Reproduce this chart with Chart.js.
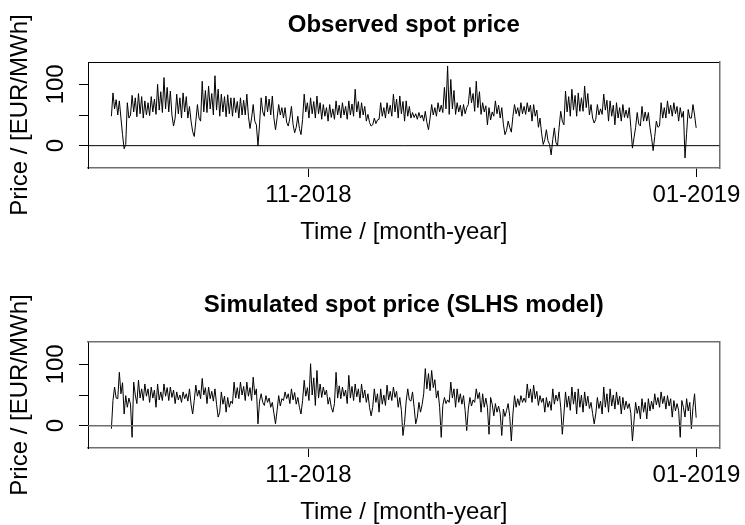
<!DOCTYPE html>
<html>
<head>
<meta charset="utf-8">
<script src="https://cdn.jsdelivr.net/npm/chart.js@4.4.1/dist/chart.umd.min.js"></script>
<style>
  html, body { margin: 0; padding: 0; background: #fff; overflow: hidden; width: 745px; height: 525px; }
  canvas { position: absolute; left: 0; }
  #observedChart { top: 0; }
  #simulatedChart { top: 280px; }
</style>
</head>
<body>
<canvas id="observedChart" width="745" height="280"></canvas>
<canvas id="simulatedChart" width="745" height="280"></canvas>
<script>
// Hourly spot prices, 1 Oct 2018 00:00 to 31 Dec 2018 23:00 (EUR/MWh),
// kept as four successive turning points per day (night, morning, midday, evening).
const observedOct = [
  48, 86, 60, 75,   50, 73, 45, 18,   -5, 2, 70, 45,    50, 82, 55, 78,
  47, 85, 52, 80,   45, 73, 50, 70,   49, 80, 55, 76,   51, 100, 58, 88,
  54, 111, 60, 95,  55, 89, 50, 32,   45, 84, 52, 78,   45, 86, 55, 80,
  45, 64, 40, 23,   15, 40, 67, 45,   40, 105, 55, 90,  54, 97, 60, 85,
  50, 114, 58, 92,  48, 84, 55, 80,   47, 83, 52, 78,   48, 78, 54, 72,
  45, 78, 50, 74,   50, 84, 48, 28,   45, 67, 40, 34,   0, 35, 78, 55,
  48, 81, 55, 76,   50, 81, 45, 26,   45, 67, 50, 62,   45, 62, 38, 32,
  45, 64, 35, 21,   30, 48, 28, 18,   43, 84, 55, 70
];
const observedNov = [
  45, 78, 52, 72,   45, 81, 52, 70,   43, 67, 48, 62,   40, 67, 46, 60,
  43, 73, 50, 66,   45, 70, 50, 64,   43, 73, 50, 68,   48, 92, 55, 72,
  45, 70, 50, 64,   40, 51, 38, 32,   34, 45, 36, 42,   43, 70, 48, 62,
  45, 70, 52, 66,   48, 84, 55, 76,   45, 81, 52, 72,   40, 73, 48, 64,
  45, 54, 46, 52,   43, 54, 45, 50,   40, 56, 38, 26,   45, 67, 50, 62,
  48, 70, 55, 66,   54, 95, 60, 130,  51, 108, 60, 90,  51, 70, 55, 66,
  48, 67, 52, 62,   67, 95, 70, 85,   56, 105, 62, 88,  51, 70, 55, 65,
  34, 62, 42, 55,   48, 73, 52, 66
];
const observedDec = [
  45, 62, 35, 18,   25, 40, 30, 22,   48, 67, 52, 62,   48, 70, 52, 64,
  51, 70, 55, 66,   40, 67, 48, 58,   30, 45, 20, 2,    10, 26, 8, 2,
  -15, 10, 29, 5,   0, 30, 56, 40,    34, 89, 55, 80,   48, 92, 58, 82,
  48, 86, 56, 78,   56, 97, 62, 85,   50, 67, 45, 37,   43, 67, 50, 60,
  51, 84, 58, 74,   40, 73, 48, 66,   34, 70, 45, 62,   40, 67, 46, 58,
  45, 62, 30, -4,   13, 30, 54, 35,   32, 64, 40, 55,   40, 54, 30, 13,
  -8, 15, 40, 30,   32, 70, 45, 62,   45, 73, 52, 66,   48, 70, 52, 64,
  40, 62, 46, 56,   -20, 20, 59, 45,  45, 67, 50, 29
];

const simulatedOct = [
  -5, 41, 63, 45,   44, 87, 52, 70,   19, 49, 30, 45,   35, -19, 71, 50,
  36, 74, 45, 60,   41, 68, 48, 60,   38, 63, 45, 58,   30, 68, 42, 55,
  41, 68, 48, 62,   41, 63, 46, 58,   36, 55, 42, 50,   38, 55, 44, 52,
  40, 60, 35, 19,   41, 66, 48, 58,   44, 77, 50, 62,   36, 63, 44, 56,
  40, 60, 35, 14,   22, 55, 35, 48,   22, 46, 30, 40,   36, 71, 45, 62,
  44, 71, 50, 64,   41, 71, 48, 62,   41, 79, 50, 60,   3, 40, 52, 38,
  33, 49, 38, 45,   30, 38, 20, 3,    25, 49, 32, 44,   41, 55, 44, 52,
  36, 60, 42, 54,   35, 46, 30, 19,   41, 74, 48, 62
];
const simulatedNov = [
  41, 101, 50, 78,  33, 90, 45, 68,   46, 63, 50, 58,   35, 46, 30, 22,
  36, 87, 45, 65,   44, 63, 48, 58,   36, 82, 45, 64,   41, 68, 47, 60,
  38, 68, 45, 58,   38, 52, 30, 16,   30, 60, 38, 52,   22, 60, 35, 50,
  33, 66, 42, 56,   41, 63, 46, 56,   30, 46, 25, -16,  5, 40, 60, 42,
  40, 55, 30, 3,    14, 38, 22, 34,   52, 93, 60, 85,   57, 90, 62, 75,
  45, 57, 30, -19,  33, 46, 36, 42,   38, 71, 45, 60,   30, 60, 38, 52,
  35, 49, 25, -8,   27, 46, 32, 42,   38, 60, 44, 54,   22, 52, 30, 45,
  30, -14, 46, 35,  16, 36, 22, 32
];
const simulatedDec = [
  20, -16, 27, 15,  25, 36, 15, -25,  19, 49, 30, 44,   33, 49, 38, 45,
  38, 68, 45, 60,   38, 66, 44, 56,   33, 49, 38, 45,   22, 46, 30, 40,
  25, 60, 35, 50,   40, 55, 30, -14,  19, 55, 30, 48,   25, 63, 35, 55,
  19, 60, 30, 50,   22, 55, 32, 48,   28, 38, 20, 3,    19, 46, 28, 40,
  19, 63, 30, 52,   22, 60, 32, 50,   27, 55, 34, 48,   19, 46, 26, 40,
  28, 36, 20, -25,  8, 38, 20, 32,    11, 44, 22, 38,   11, 44, 24, 40,
  27, 52, 34, 46,   30, 55, 36, 48,   27, 49, 32, 44,   14, 41, 24, 36,
  25, -19, 41, 30,  14, 44, 24, 38,   -5, 30, 52, 13
];

// Time axis in hours since 1 Oct 2018 00:00
const timeTickHours = [744, 2208];
const timeTickLabels = ['11-2018', '01-2019'];
const priceTickValues = [0, 50, 100];
const priceTickLabels = ['0', '', '100'];

const LAST_HOUR = 2207;
const X_MIN = -0.04 * LAST_HOUR;
const X_MAX = LAST_HOUR * 1.04;
const Y_MIN = -36.4;
const Y_MAX = 136.4;

const FONT = "'Liberation Sans', Arial, Helvetica, sans-serif";

function toPoints(values) {
  const step = LAST_HOUR / (values.length - 1);
  return values.map((v, i) => ({ x: i * step, y: v }));
}

function makePanel(canvasId, titleText, values, edges) {
  const labelFont = { family: FONT, size: 24, lineHeight: 1.2 };
  return new Chart(document.getElementById(canvasId), {
    type: 'line',
    data: {
      datasets: [
        {
          data: [{ x: X_MIN, y: 0 }, { x: X_MAX, y: 0 }],
          borderColor: edges.zero,
          borderWidth: edges.zeroWidth,
          pointRadius: 0,
          fill: false
        },
        {
          data: toPoints(values),
          borderColor: '#000',
          borderWidth: 1,
          pointRadius: 0,
          tension: 0,
          fill: false
        }
      ]
    },
    options: {
      responsive: false,
      animation: false,
      devicePixelRatio: 1,
      events: [],
      layout: { padding: 0 },
      plugins: { legend: { display: false }, tooltip: { enabled: false } },
      scales: {
        x: {
          type: 'linear', position: 'bottom', min: X_MIN, max: X_MAX,
          afterBuildTicks: s => { s.ticks = timeTickHours.map(v => ({ value: v })); },
          afterFit: s => { s.height = 112; },
          ticks: {
            autoSkip: false, maxRotation: 0, minRotation: 0, padding: 3.6, color: '#000', font: labelFont,
            callback: v => timeTickLabels[timeTickHours.indexOf(v)]
          },
          grid: { display: true, drawOnChartArea: false, drawTicks: true, tickLength: 9, color: '#000', lineWidth: 1 },
          border: { display: true, color: edges.bottom, width: edges.bottomWidth },
          title: { display: true, text: 'Time / [month-year]', color: '#000', font: labelFont, padding: { top: 0, bottom: 33.2 } }
        },
        y: {
          type: 'linear', position: 'left', min: Y_MIN, max: Y_MAX,
          afterBuildTicks: s => { s.ticks = priceTickValues.map(v => ({ value: v })); },
          afterFit: s => { s.width = 88; },
          ticks: {
            autoSkip: false, minRotation: 90, maxRotation: 90, crossAlign: 'center', padding: 2.3, color: '#000', font: labelFont,
            callback: v => priceTickLabels[priceTickValues.indexOf(v)]
          },
          grid: { display: true, drawOnChartArea: false, drawTicks: true, tickLength: 9, color: '#000', lineWidth: 1 },
          border: { display: true, color: '#000', width: 1 },
          title: { display: true, text: 'Price / [EUR/MWh]', color: '#000', font: labelFont, padding: { top: 5.6, bottom: 0 } }
        },
        xTop: {
          type: 'linear', position: 'top', min: 0, max: 1, display: true,
          afterFit: s => { s.height = 62; },
          ticks: { display: false },
          grid: { display: false },
          border: { display: true, color: edges.top, width: edges.topWidth },
          title: {
            display: true, text: titleText, color: '#000',
            font: { family: FONT, size: 24, weight: 'bold', lineHeight: 1.2 },
            padding: { top: 10.6, bottom: 0 }
          }
        },
        yRight: {
          type: 'linear', position: 'right', min: 0, max: 1, display: true,
          afterFit: s => { s.width = 24; },
          ticks: { display: false },
          grid: { display: false },
          border: { display: true, color: edges.right, width: edges.rightWidth }
        }
      }
    }
  });
}

makePanel('observedChart', 'Observed spot price',
  [...observedOct, ...observedNov, ...observedDec],
  { top: '#000', topWidth: 1, right: '#6e6e6e', rightWidth: 1.5, bottom: '#6e6e6e', bottomWidth: 1.5, zero: '#000', zeroWidth: 1 });

makePanel('simulatedChart', 'Simulated spot price (SLHS model)',
  [...simulatedOct, ...simulatedNov, ...simulatedDec],
  { top: '#6e6e6e', topWidth: 1.5, right: '#6e6e6e', rightWidth: 1.5, bottom: '#6e6e6e', bottomWidth: 1.5, zero: '#6e6e6e', zeroWidth: 1.5 });
</script>
</body>
</html>
